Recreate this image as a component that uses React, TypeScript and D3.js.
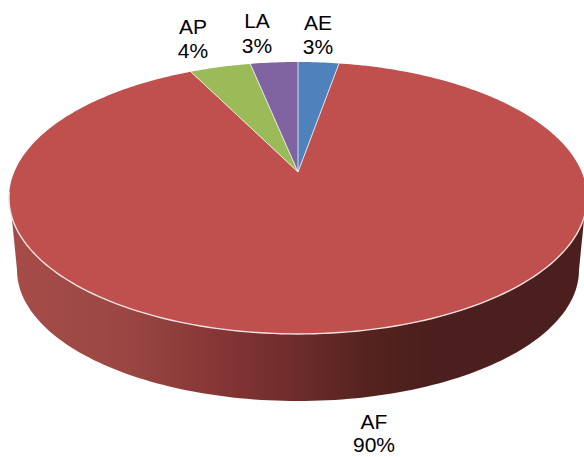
import React from "react";
import * as d3 from "d3";

const categories = ["AE", "AF", "AP", "LA"];
const shares = [2.75, 89.95, 4.1, 3.2];
const percentLabels = ["3%", "90%", "4%", "3%"];
const colors = ["#4f81bd", "#c0504d", "#9bbb59", "#8064a2"];
const labelAnchors = [
  [318, 30, 54],
  [374, 429, 452],
  [193, 34, 58],
  [257, 28, 53],
];
const wallStops = [
  [0, "#a64c48"],
  [0.2, "#9a4744"],
  [0.35, "#873736"],
  [0.5, "#6d2c2b"],
  [0.62, "#55231f"],
  [0.72, "#4b1f1d"],
  [1, "#4b1f1d"],
];

const W = 584, H = 457;
const apexX = 298, apexY = 172;
const k = 0.191, A = 131, B = 283.7;

const rim = (t: number): [number, number] => {
  const w = 1 + k * Math.cos(t);
  return [apexX + (B * Math.sin(t)) / w, apexY - (A * Math.cos(t)) / w];
};

const line = d3.line();
const angles = d3.pie<number>().sort(null)(shares);

const slicePath = (start: number, end: number) => {
  const n = Math.max(4, Math.ceil((end - start) * 60));
  const pts = d3.range(n + 1).map((i) => rim(start + ((end - start) * i) / n));
  return line([[apexX, apexY], ...pts]) + "Z";
};

const wallPath = () => {
  const topPts = d3.range(0, 121).map((i) => rim(1.72 + ((2 * Math.PI - 2 * 1.72) * i) / 120));
  const botPts = d3.range(0, 121).map((i) => {
    const t = 2 * Math.PI - 1.57 - ((2 * Math.PI - 2 * 1.57) * i) / 120;
    return [298 + 281 * Math.sin(t), 270 - 131 * Math.cos(t)] as [number, number];
  });
  return line([...topPts, ...botPts]) + "Z";
};

const frontRim = () =>
  line(d3.range(0, 121).map((i) => rim(1.72 + ((2 * Math.PI - 2 * 1.72) * i) / 120))) as string;

export default function App() {
  return (
    <svg
      width={W}
      height={H}
      viewBox={`0 0 ${W} ${H}`}
      style={{ position: "absolute", left: 0, top: 0, background: "#fff" }}
      fontFamily="Liberation Sans, Arial, sans-serif"
    >
      <defs>
        <linearGradient id="wall" gradientUnits="userSpaceOnUse" x1={10} x2={584} y1={0} y2={0}>
          {wallStops.map(([o, c]) => (
            <stop key={String(o)} offset={o as number} stopColor={c as string} />
          ))}
        </linearGradient>
      </defs>
      <path d={wallPath()} fill="url(#wall)" />
      {angles.map((a, i) => (
        <path key={categories[i]} d={slicePath(a.startAngle, a.endAngle)} fill={colors[i]} />
      ))}
      <path d={frontRim()} fill="none" stroke="#f0e4e2" strokeWidth={1.4} />
      {angles.map((a, i) => (
        <path
          key={categories[i] + "-edge"}
          d={line([[apexX, apexY], rim(a.startAngle)]) as string}
          stroke="#ffffff"
          strokeOpacity={0.75}
          strokeWidth={1}
          fill="none"
        />
      ))}
      {categories.map((c, i) => (
        <text key={c} textAnchor="middle" fontSize={21} fill="#000">
          <tspan x={labelAnchors[i][0]} y={labelAnchors[i][1]}>{c}</tspan>
          <tspan x={labelAnchors[i][0]} y={labelAnchors[i][2]}>{percentLabels[i]}</tspan>
        </text>
      ))}
    </svg>
  );
}
